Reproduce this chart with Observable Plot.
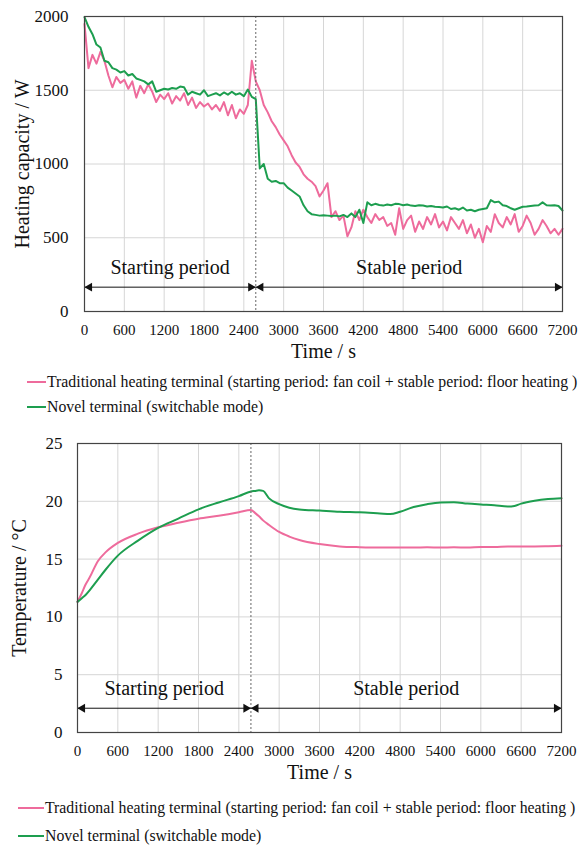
<!DOCTYPE html>
<html>
<head>
<meta charset="utf-8">
<script src="https://cdn.jsdelivr.net/npm/d3@7"></script>
<script src="https://cdn.jsdelivr.net/npm/@observablehq/plot@0.6"></script>
<style>
  html, body { margin: 0; padding: 0; background: #fff; }
  body { width: 579px; font-family: "Liberation Serif", "Times New Roman", serif; color: #111; }
  svg { display: block; }
  .legend { font-size: 15.8px; line-height: 25px; white-space: nowrap; }
  .legend .row { display: flex; align-items: center; }
  .legend .sw { display: inline-block; width: 19px; height: 2px; margin-right: 1px; }
  #legend2 { line-height: 28px; }
  #legend2 .sw { width: 26px; }
</style>
</head>
<body>
<div id="chart1"></div>
<div id="legend1" class="legend" style="padding-left:27px"></div>
<div id="chart2"></div>
<div id="legend2" class="legend" style="padding-left:18px"></div>
<script>
// ---------- data ----------
const seriesNames = [
  "Traditional heating terminal (starting period: fan coil + stable period: floor heating )",
  "Novel terminal (switchable mode)"
];
const seriesColors = ["#ee6b9c", "#1d9e4f"];

const xTicks = [0, 600, 1200, 1800, 2400, 3000, 3600, 4200, 4800, 5400, 6000, 6600, 7200];
const heatTicks = [0, 500, 1000, 1500, 2000];
const tempTicks = [0, 5, 10, 15, 20, 25];

const boundaryTime = 2580;
const periodLabels = ["Starting period", "Stable period"];
const periodStart = [0, 2580];
const periodEnd = [2580, 7200];

// heating capacity (W), sampled every 60 s from 0 to 7200 s
const heatTime = d3.range(0, 7201, 60);
const heatTraditional = [
  1950, 1650, 1740, 1680, 1760, 1700, 1600, 1520, 1590, 1550,
  1570, 1510, 1560, 1450, 1530, 1480, 1540, 1490, 1420, 1470,
  1440, 1480, 1410, 1460, 1430, 1480, 1400, 1450, 1380, 1420,
  1390, 1410, 1370, 1400, 1360, 1420, 1330, 1400, 1310, 1370,
  1340, 1400, 1700, 1560, 1500, 1400, 1350, 1290, 1250, 1200,
  1160, 1120, 1060, 1010, 980, 930, 900, 880, 850, 780,
  820, 870, 640, 680, 620, 650, 510, 570, 680, 620,
  690, 640, 600, 660, 620, 640, 580, 600, 520, 700,
  560, 620, 650, 540, 610, 560, 640, 590, 660, 570,
  610, 550, 640, 600, 560, 620, 530, 590, 500, 560,
  470, 580, 540, 660, 600, 570, 640, 590, 660, 540,
  580, 650, 600, 520, 560, 620, 580, 530, 560, 520,
  560
];
const heatNovel = [
  1995, 1930, 1880, 1810, 1790, 1700, 1690, 1650, 1640, 1620,
  1630, 1600, 1610, 1580, 1570, 1560, 1540, 1560, 1490, 1500,
  1510, 1505, 1515, 1510, 1525, 1520, 1470, 1490, 1480, 1470,
  1500, 1460, 1470, 1480, 1465, 1485, 1470, 1490, 1470, 1480,
  1460, 1505, 1455, 1440, 970, 1000, 900, 880, 885, 870,
  870, 840, 820, 800, 780, 720, 680, 660, 655, 650,
  652, 650, 648, 650, 645, 655, 640, 665, 640, 690,
  600, 740, 720, 730, 722, 718, 725, 720, 730, 728,
  720, 725, 718, 715, 720, 718, 712, 715, 710, 708,
  705, 712, 695, 700, 690, 705, 685, 690, 680, 690,
  695, 700, 755, 740, 745, 720, 715, 700, 690, 700,
  710, 712, 715, 718, 720, 740, 720, 718, 720, 715,
  685
];

// indoor temperature (°C)
const tempTime = [0, 60, 120, 180, 300, 420, 600, 900, 1200, 1500, 1800, 2100, 2400, 2580, 2640, 2700, 2760, 2850, 3000, 3150,
  3300, 3600, 3900, 4200, 4500, 4650, 4800, 5000, 5200, 5400, 5600, 5800, 6000, 6200, 6400, 6500, 6600, 6800, 7000, 7200];
const tempTraditional = [11.3, 12.0, 12.8, 13.4, 14.8, 15.6, 16.4, 17.2, 17.75, 18.15, 18.5, 18.75, 19.05, 19.25, 19.0, 18.7, 18.35, 17.95, 17.35, 16.95,
  16.65, 16.3, 16.1, 16.03, 16.0, 16.0, 16.0, 16.0, 16.02, 16.0, 16.02, 16.0, 16.05, 16.05, 16.08, 16.08, 16.1, 16.1, 16.12, 16.15];
const tempNovel = [11.3, 11.6, 11.9, 12.3, 13.2, 14.1, 15.3, 16.6, 17.7, 18.5, 19.3, 19.9, 20.45, 20.85, 20.9, 20.95, 20.9, 20.25, 19.75, 19.45,
  19.3, 19.2, 19.1, 19.05, 18.95, 18.9, 19.1, 19.5, 19.75, 19.9, 19.92, 19.8, 19.72, 19.65, 19.55, 19.6, 19.8, 20.05, 20.2, 20.27];

// ---------- tables built from the arrays ----------
const heatRows = [];
heatTime.forEach((t, i) => {
  heatRows.push({t, v: heatTraditional[i], s: seriesNames[0]});
  heatRows.push({t, v: heatNovel[i], s: seriesNames[1]});
});
const tempRows = [];
tempTime.forEach((t, i) => {
  tempRows.push({t, v: tempTraditional[i], s: seriesNames[0]});
  tempRows.push({t, v: tempNovel[i], s: seriesNames[1]});
});
const periods = periodLabels.map((label, i) => ({label, start: periodStart[i], end: periodEnd[i]}));

const FONT = '"Liberation Serif", "Times New Roman", serif';

function makeChart(cfg) {
  return Plot.plot({
    width: 579,
    height: cfg.height,
    marginTop: cfg.mt,
    marginBottom: cfg.mb,
    marginLeft: cfg.ml,
    marginRight: cfg.mr,
    style: {fontFamily: FONT, background: "#fff", color: "#111", overflow: "visible"},
    x: {domain: [0, 7200]},
    y: {domain: cfg.yDomain},
    color: {domain: seriesNames, range: seriesColors},
    marks: [
      Plot.gridX({ticks: xTicks, stroke: "#d6d6d6", strokeOpacity: 1, strokeWidth: 1}),
      Plot.gridY({ticks: cfg.yTicks, stroke: "#d6d6d6", strokeOpacity: 1, strokeWidth: 1}),
      Plot.axisX({ticks: xTicks, tickSize: 0, tickPadding: 13, fontSize: 15, label: null, tickFormat: d => String(d)}),
      Plot.axisY({ticks: cfg.yTicks, tickSize: 0, tickPadding: cfg.yPad, fontSize: 17, label: null, tickFormat: d => String(d)}),
      Plot.line(cfg.rows, {x: "t", y: "v", z: "s", stroke: "s", strokeWidth: 2, curve: cfg.curve}),
      Plot.ruleX([boundaryTime], {stroke: "#666", strokeDasharray: "2,2", strokeWidth: 1}),
      Plot.ruleY(periods, {y: cfg.arrowY, x1: "start", x2: "end", stroke: "#111", strokeWidth: 1}),
      Plot.dot(periods, {x: "start", y: cfg.arrowY, symbol: "triangle", r: 3.3, fill: "#111", stroke: "none", rotate: -90, dx: 5}),
      Plot.dot(periods, {x: "end", y: cfg.arrowY, symbol: "triangle", r: 3.3, fill: "#111", stroke: "none", rotate: 90, dx: -5}),
      Plot.text(periods, {x: d => (d.start + d.end) / 2, y: cfg.labelY, text: "label", fontSize: 20, fill: "#111"}),
      Plot.frame({stroke: "#444", strokeWidth: 1.2}),
      Plot.text(["Time / s"], {frameAnchor: "bottom", text: d => d, dy: 46, fontSize: 20, fill: "#111"}),
      Plot.text([cfg.yLabel], {frameAnchor: "left", textAnchor: "middle", text: d => d, rotate: -90, dx: cfg.yLabelDx, fontSize: 20, fill: "#111"})
    ]
  });
}

document.getElementById("chart1").append(makeChart({
  height: 369, mt: 16, mb: 58, ml: 84, mr: 17,
  yDomain: [0, 2000], yTicks: heatTicks, yPad: 16,
  rows: heatRows, curve: "linear",
  arrowY: 165, labelY: 300,
  yLabel: "Heating capacity / W", yLabelDx: -62
}));
document.getElementById("chart2").append(makeChart({
  height: 375, mt: 24, mb: 62, ml: 77, mr: 18,
  yDomain: [0, 25], yTicks: tempTicks, yPad: 15,
  rows: tempRows, curve: "monotone-x",
  arrowY: 2.1, labelY: 3.8,
  yLabel: "Temperature / °C", yLabelDx: -58
}));

function legend(el) {
  seriesNames.forEach((name, i) => {
    const row = document.createElement("div");
    row.className = "row";
    const sw = document.createElement("span");
    sw.className = "sw";
    sw.style.background = seriesColors[i];
    row.append(sw, document.createTextNode(name));
    el.append(row);
  });
}
legend(document.getElementById("legend1"));
legend(document.getElementById("legend2"));
</script>
</body>
</html>
